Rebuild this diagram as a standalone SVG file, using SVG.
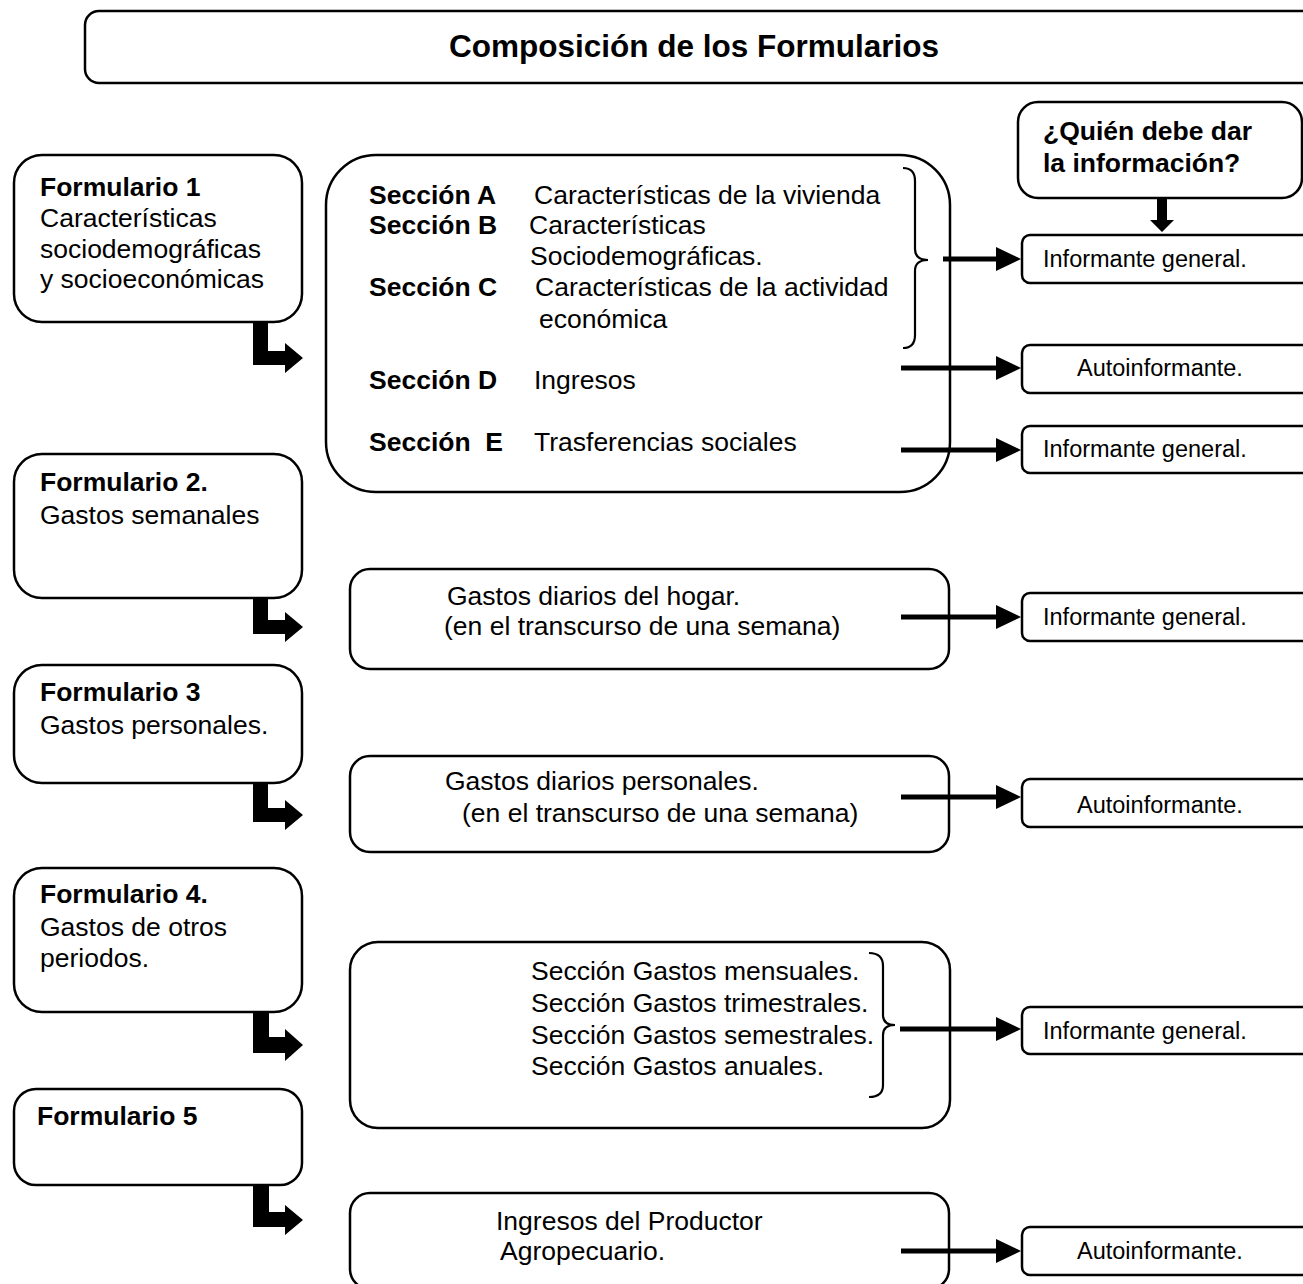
<svg xmlns="http://www.w3.org/2000/svg" width="1303" height="1284" viewBox="0 0 1303 1284">
<style>
  .box{fill:#fff;stroke:#000;stroke-width:2.5}
  .t{font-family:"Liberation Sans",Arial,sans-serif;font-size:26.5px;fill:#000}
  .b{font-weight:bold}
  .r{font-family:"Liberation Sans",Arial,sans-serif;font-size:23.5px;fill:#000}
  .ln{stroke:#000;stroke-width:5;fill:none}
  .br{stroke:#000;stroke-width:2.2;fill:none}
  .ah{fill:#000}
</style>
<rect width="1303" height="1284" fill="#fff"/>

<g id="title">
  <rect class="box" x="85" y="11" width="1240" height="72" rx="14"/>
  <text class="t b" x="694" y="57" text-anchor="middle" style="font-size:31.5px">Composición de los Formularios</text>
</g>

<g id="quien">
  <rect class="box" x="1018" y="102" width="284" height="96" rx="20"/>
  <text class="t b" x="1043" y="140">¿Quién debe dar</text>
  <text class="t b" x="1043" y="172">la información?</text>
</g>

<g id="form1">
  <rect class="box" x="14" y="155" width="288" height="167" rx="28"/>
  <text class="t b" x="40" y="196">Formulario 1</text>
  <text class="t" x="40" y="227">Características</text>
  <text class="t" x="40" y="258">sociodemográficas</text>
  <text class="t" x="40" y="288">y socioeconómicas</text>
</g>

<g id="form2">
  <rect class="box" x="14" y="454" width="288" height="144" rx="28"/>
  <text class="t b" x="40" y="491">Formulario 2.</text>
  <text class="t" x="40" y="524">Gastos semanales</text>
</g>

<g id="form3">
  <rect class="box" x="14" y="665" width="288" height="118" rx="28"/>
  <text class="t b" x="40" y="701">Formulario 3</text>
  <text class="t" x="40" y="734">Gastos personales.</text>
</g>

<g id="form4">
  <rect class="box" x="14" y="868" width="288" height="144" rx="28"/>
  <text class="t b" x="40" y="903">Formulario 4.</text>
  <text class="t" x="40" y="936">Gastos de otros</text>
  <text class="t" x="40" y="967">periodos.</text>
</g>

<g id="form5">
  <rect class="box" x="14" y="1089" width="288" height="96" rx="22"/>
  <text class="t b" x="37" y="1125">Formulario 5</text>
</g>

<g id="secciones">
  <rect class="box" x="326" y="155" width="624" height="337" rx="50"/>
  <text class="t b" x="369" y="204">Sección A</text>
  <text class="t" x="534" y="204">Características de la vivienda</text>
  <text class="t b" x="369" y="234">Sección B</text>
  <text class="t" x="529" y="234">Características</text>
  <text class="t" x="530" y="265">Sociodemográficas.</text>
  <text class="t b" x="369" y="296">Sección C</text>
  <text class="t" x="535" y="296">Características de la actividad</text>
  <text class="t" x="539" y="328">económica</text>
  <text class="t b" x="369" y="389">Sección D</text>
  <text class="t" x="534" y="389">Ingresos</text>
  <text class="t b" x="369" y="451" style="white-space:pre">Sección  E</text>
  <text class="t" x="534" y="451">Trasferencias sociales</text>
  <path class="br" d="M903,168 Q915,168 915,181 L915,249 Q915,260 928,260 Q915,260 915,271 L915,335 Q915,348 903,348"/>
</g>

<g id="hogar">
  <rect class="box" x="350" y="569" width="599" height="100" rx="20"/>
  <text class="t" x="447" y="605">Gastos diarios del hogar.</text>
  <text class="t" x="444" y="635">(en el transcurso de una semana)</text>
</g>

<g id="personales">
  <rect class="box" x="350" y="756" width="599" height="96" rx="20"/>
  <text class="t" x="445" y="790">Gastos diarios personales.</text>
  <text class="t" x="462" y="822">(en el transcurso de una semana)</text>
</g>

<g id="otros">
  <rect class="box" x="350" y="942" width="600" height="186" rx="28"/>
  <text class="t" x="531" y="980">Sección Gastos mensuales.</text>
  <text class="t" x="531" y="1012">Sección Gastos trimestrales.</text>
  <text class="t" x="531" y="1044">Sección Gastos semestrales.</text>
  <text class="t" x="531" y="1075">Sección Gastos anuales.</text>
  <path class="br" d="M869,953 Q883,953 883,966 L883,1015 Q883,1025 895,1025 Q883,1025 883,1035 L883,1085 Q883,1097 869,1097"/>
</g>

<g id="agro">
  <rect class="box" x="350" y="1193" width="599" height="96" rx="20"/>
  <text class="t" x="496" y="1230">Ingresos del Productor</text>
  <text class="t" x="500" y="1260">Agropecuario.</text>
</g>

<g id="inf1"><rect class="box" x="1022" y="235" width="300" height="48" rx="8"/><text class="r" x="1043" y="267">Informante general.</text></g>
<g id="aut1"><rect class="box" x="1022" y="345" width="300" height="48" rx="8"/><text class="r" x="1077" y="376">Autoinformante.</text></g>
<g id="inf2"><rect class="box" x="1022" y="426" width="300" height="47" rx="8"/><text class="r" x="1043" y="457">Informante general.</text></g>
<g id="inf3"><rect class="box" x="1022" y="593" width="300" height="48" rx="8"/><text class="r" x="1043" y="625">Informante general.</text></g>
<g id="aut2"><rect class="box" x="1022" y="779" width="300" height="48" rx="8"/><text class="r" x="1077" y="813">Autoinformante.</text></g>
<g id="inf4"><rect class="box" x="1022" y="1007" width="300" height="47" rx="8"/><text class="r" x="1043" y="1039">Informante general.</text></g>
<g id="aut3"><rect class="box" x="1022" y="1227" width="300" height="48" rx="8"/><text class="r" x="1077" y="1259">Autoinformante.</text></g>

<g id="connectors">
  <polygon class="ah" points="1157,198 1167,198 1167,220 1174,220 1162,232 1150,220 1157,220"/>
  <line class="ln" x1="943" y1="259" x2="998" y2="259"/><polygon class="ah" points="996,247 1021,259 996,271"/>
  <line class="ln" x1="901" y1="368" x2="998" y2="368"/><polygon class="ah" points="996,356 1021,368 996,380"/>
  <line class="ln" x1="901" y1="450" x2="998" y2="450"/><polygon class="ah" points="996,438 1021,450 996,462"/>
  <line class="ln" x1="901" y1="617" x2="998" y2="617"/><polygon class="ah" points="996,605 1021,617 996,629"/>
  <line class="ln" x1="901" y1="797" x2="998" y2="797"/><polygon class="ah" points="996,785 1021,797 996,809"/>
  <line class="ln" x1="900" y1="1029" x2="998" y2="1029"/><polygon class="ah" points="996,1017 1021,1029 996,1041"/>
  <line class="ln" x1="901" y1="1251" x2="998" y2="1251"/><polygon class="ah" points="996,1239 1021,1251 996,1263"/>

  <polygon class="ah" points="253,322 268,322 268,351 285,351 285,343 303,358 285,373 285,365 253,365"/>
  <polygon class="ah" points="253,598 268,598 268,620 285,620 285,612 303,627 285,642 285,634 253,634"/>
  <polygon class="ah" points="253,783 268,783 268,808 285,808 285,800 303,815 285,830 285,822 253,822"/>
  <polygon class="ah" points="253,1012 269,1012 269,1037 285,1037 285,1029 303,1045 285,1061 285,1053 253,1053"/>
  <polygon class="ah" points="253,1185 269,1185 269,1212 285,1212 285,1205 303,1220 285,1235 285,1227 253,1227"/>
</g>
</svg>
